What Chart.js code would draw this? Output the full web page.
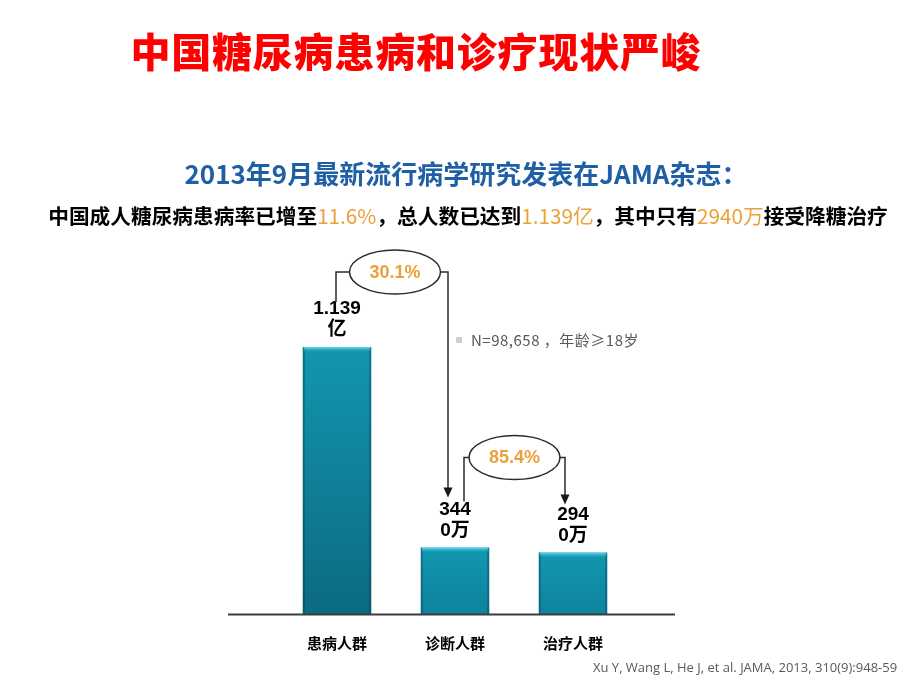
<!DOCTYPE html>
<html>
<head>
<meta charset="utf-8">
<script src="https://cdn.jsdelivr.net/npm/chart.js@4.4.1/dist/chart.umd.min.js"></script>
<style>
  html, body { margin: 0; padding: 0; background: #fff; }
  #wrap { position: relative; width: 920px; height: 690px; overflow: hidden; }
  canvas { position: absolute; left: 0; top: 0; }
  .txt { position: absolute; white-space: nowrap; font-family: "Noto Sans CJK SC", "Liberation Sans", sans-serif; }
  #title { left: 0; width: 832px; top: 24px; text-align: center; color: #ff0000; font-size: 40px; font-weight: 900; line-height: 52px; letter-spacing: 0.8px; }
  #sub1 { left: 0; width: 932px; top: 156px; text-align: center; color: #1f5fa6; font-size: 26px; font-weight: bold; line-height: 34px; }
  #sub2 { left: 0; width: 936px; top: 200px; text-align: center; color: #000; font-size: 20.7px; font-weight: bold; line-height: 30px; }
  #sub2 span { color: #e9a23b; font-weight: normal; }
  #note { left: 456px; top: 328px; color: #595959; font-size: 15px; line-height: 24px; letter-spacing: 0.5px; }
  #note i { display: inline-block; width: 6px; height: 6px; background: #d0d0d0; margin-right: 9px; vertical-align: 3px; }
  #cite { left: 593px; top: 657px; color: #595959; font-family: "Open Sans", sans-serif; font-size: 13px; line-height: 20px; }
</style>
</head>
<body>
<div id="wrap">
  <canvas id="chart" width="920" height="690"></canvas>
  <div class="txt" id="title">中国糖尿病患病和诊疗现状严峻</div>
  <div class="txt" id="sub1">2013年9月最新流行病学研究发表在JAMA杂志：</div>
  <div class="txt" id="sub2">中国成人糖尿病患病率已增至<span>11.6%</span>，总人数已达到<span>1.139亿</span>，其中只有<span>2940万</span>接受降糖治疗</div>
  <div class="txt" id="note"><i></i>N=98,658 ，年龄≥18岁</div>
  <div class="txt" id="cite">Xu Y, Wang L, He J, et al. JAMA, 2013, 310(9):948-59</div>
</div>
<script>
// categories and data
const categories = ['患病人群', '诊断人群', '治疗人群'];
// bar heights as drawn in the picture (the source chart is not to scale)
const barHeights = [265, 66, 61];
// value labels, two lines each
const valueLabels = [['1.139', '亿'], ['344', '0万'], ['294', '0万']];
// ratio bubbles between bars
const ratioLabels = ['30.1%', '85.4%'];

const cjkFont = '"Liberation Sans", "Noto Sans CJK SC", sans-serif';

function barGradient(ctx) {
    const chart = ctx.chart;
    if (!chart.chartArea || ctx.type !== 'data') return '#1090a8';
    const y = chart.scales.y;
    const top = y.getPixelForValue(ctx.raw);
    const bottom = y.getPixelForValue(0);
    const g = chart.ctx.createLinearGradient(0, top, 0, bottom);
    g.addColorStop(0, '#1396b0');
    g.addColorStop(1, ctx.raw > 100 ? '#0b6a80' : '#0e839d');
    return g;
}

function arrowDown(c, x, y) {
    c.beginPath();
    c.moveTo(x, y);
    c.lineTo(x - 4.5, y - 10);
    c.lineTo(x + 4.5, y - 10);
    c.closePath();
    c.fill();
}

const decorations = {
    id: 'decorations',
    afterDatasetsDraw(chart) {
        const c = chart.ctx;
        const bars = chart.getDatasetMeta(0).data;
        const base = chart.scales.y.getPixelForValue(0);
        c.save();
        // bevel on bars
        bars.forEach(b => {
            const left = b.x - b.width / 2;
            c.fillStyle = 'rgba(0,50,65,0.35)';
            c.fillRect(left, b.y, 2, base - b.y);
            c.fillRect(left + b.width - 2, b.y, 2, base - b.y);
            const hg = c.createLinearGradient(0, b.y, 0, b.y + 5);
            hg.addColorStop(0, '#6fdcef');
            hg.addColorStop(1, 'rgba(40,170,195,0)');
            c.fillStyle = hg;
            c.fillRect(left + 1, b.y, b.width - 2, 5);
        });
        // baseline
        c.strokeStyle = '#3c3c3c';
        c.lineWidth = 2;
        c.beginPath();
        c.moveTo(chart.chartArea.left - 50, base + 0.5);
        c.lineTo(chart.chartArea.right + 43, base + 0.5);
        c.stroke();
        c.restore();
    },
    afterDraw(chart) {
        const c = chart.ctx;
        const bars = chart.getDatasetMeta(0).data;
        c.save();
        // value labels
        c.fillStyle = '#000';
        c.textAlign = 'center';
        c.textBaseline = 'middle';
        c.font = 'bold 19px ' + cjkFont;
        bars.forEach((b, i) => {
            c.fillText(valueLabels[i][0], b.x, b.y - 38);
            c.fillText(valueLabels[i][1], b.x, b.y - 17);
        });

        // brackets with ratio bubbles
        const brackets = [
            { lx: bars[0].x - 1, ly: bars[0].y - 45, rx: bars[1].x - 7, ry: bars[1].y - 50, level: bars[0].y - 75, ex: 3 },
            { lx: bars[1].x + 9, ly: bars[1].y - 46, rx: bars[2].x - 8, ry: bars[2].y - 48, level: bars[1].y - 90, ex: 0 }
        ];
        c.strokeStyle = '#2b2b2b';
        c.fillStyle = '#1a1a1a';
        c.lineWidth = 1.5;
        brackets.forEach((k, i) => {
            const cx = (k.lx + k.rx) / 2 + k.ex;
            const rxE = 45.5, ryE = 22;
            c.beginPath();
            c.moveTo(k.lx, k.ly);
            c.lineTo(k.lx, k.level);
            c.lineTo(cx - rxE, k.level);
            c.moveTo(cx + rxE, k.level);
            c.lineTo(k.rx, k.level);
            c.lineTo(k.rx, k.ry - 8);
            c.stroke();
            arrowDown(c, k.rx, k.ry);
            c.beginPath();
            c.ellipse(cx, k.level, rxE, ryE, 0, 0, Math.PI * 2);
            c.fillStyle = '#fff';
            c.fill();
            c.stroke();
            c.fillStyle = '#e9a23b';
            c.font = 'bold 18px ' + cjkFont;
            c.fillText(ratioLabels[i], cx, k.level + 1);
            c.fillStyle = '#1a1a1a';
        });
        c.restore();
    }
};

new Chart(document.getElementById('chart').getContext('2d'), {
    type: 'bar',
    data: {
        labels: categories,
        datasets: [{
            data: barHeights,
            backgroundColor: barGradient,
            borderWidth: 0,
            barPercentage: 0.58,
            categoryPercentage: 1
        }]
    },
    options: {
        responsive: false,
        animation: false,
        layout: { padding: { left: 278, right: 288, top: 347, bottom: 18 } },
        plugins: { legend: { display: false }, tooltip: { enabled: false } },
        scales: {
            x: {
                grid: { display: false, drawTicks: false },
                border: { display: false },
                ticks: {
                    color: '#000',
                    padding: 20,
                    font: { family: '"Noto Sans CJK SC", sans-serif', size: 15, weight: 'bold' }
                }
            },
            y: { display: false, min: 0, max: 265 }
        }
    },
    plugins: [decorations]
});
</script>
</body>
</html>
